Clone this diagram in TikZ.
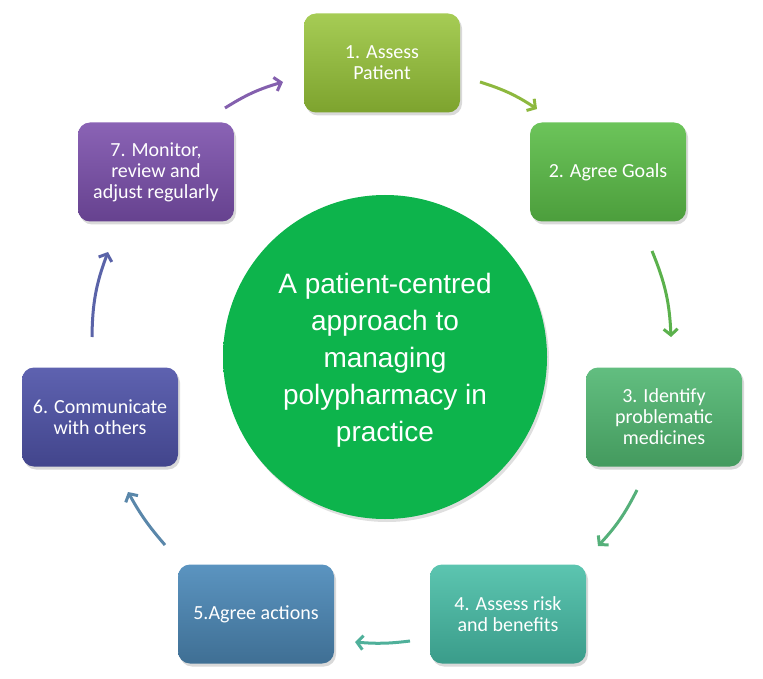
\documentclass[tikz,border=0pt]{standalone}
\usepackage{fontspec}
\setmainfont{Carlito}
\newfontfamily\arialf{Liberation Sans}
\usetikzlibrary{arrows.meta,shadows}
\definecolor{ta}{HTML}{A6CC55}\definecolor{ba}{HTML}{7DA32E}
\definecolor{tb}{HTML}{6CC45A}\definecolor{bb}{HTML}{4C9E3C}
\definecolor{tc}{HTML}{62BE80}\definecolor{bc}{HTML}{449A5E}
\definecolor{td}{HTML}{5CC5B0}\definecolor{bd}{HTML}{3A9C8A}
\definecolor{te}{HTML}{5B94C0}\definecolor{be}{HTML}{3F6F94}
\definecolor{tf}{HTML}{5E62B0}\definecolor{bf}{HTML}{42458C}
\definecolor{tg}{HTML}{8A63B5}\definecolor{bg}{HTML}{66428F}
\definecolor{aa}{HTML}{8DB83E}\definecolor{ab}{HTML}{5BB14C}
\definecolor{ac}{HTML}{55B07A}\definecolor{ad}{HTML}{4FB09A}
\definecolor{ae}{HTML}{5A87AA}\definecolor{af}{HTML}{5A63A8}
\definecolor{ag}{HTML}{8460AE}
\definecolor{circin}{HTML}{0DB44C}\definecolor{circout}{HTML}{07863A}
\pgfdeclareradialshading{circshade}{\pgfpoint{0bp}{0bp}}{color(0bp)=(circin); color(43bp)=(circin); color(47.5bp)=(circin!80!circout); color(50bp)=(circout)}
\tikzset{
  stepbox/.style={rounded corners=12pt, minimum width=156pt, minimum height=99pt,
    text=white, align=center, font=\fontsize{20}{21}\selectfont,
    drop shadow={opacity=0.3, shadow xshift=2pt, shadow yshift=-3pt}},
  cyc/.style={line width=3pt, -{Straight Barb[length=6pt,width=14pt,line width=3pt]}}
}
\begin{document}
\begin{tikzpicture}[x=1pt,y=-1pt]
\useasboundingbox (0,0) rectangle (763,679);
\node[circle, minimum size=324pt, shading=circshade,
  drop shadow={opacity=0.25, shadow xshift=2pt, shadow yshift=-3pt}] (c) at (385,357) {};
\node[align=center, text=white, font=\arialf\fontsize{28}{37}\selectfont] (ct) at (385,360)
  {A patient-centred\\approach to\\managing\\polypharmacy in\\practice};
\node[stepbox, top color=ta, bottom color=ba] (b1) at (382,63) {1. Assess\\Patient};
\node[stepbox, top color=tb, bottom color=bb] (b2) at (608,172) {2. Agree Goals};
\node[stepbox, top color=tc, bottom color=bc] (b3) at (664,417) {3. Identify\\problematic\\medicines};
\node[stepbox, top color=td, bottom color=bd] (b4) at (508,614) {4. Assess risk\\and benefits};
\node[stepbox, top color=te, bottom color=be] (b5) at (256,614) {5.Agree actions};
\node[stepbox, top color=tf, bottom color=bf] (b6) at (100,417) {6. Communicate\\with others};
\node[stepbox, top color=tg, bottom color=bg] (b7) at (156,172) {7. Monitor,\\review and\\adjust regularly};
\coordinate (s1) at (480,82);  \coordinate (e1) at (537,109);
\coordinate (s2) at (652,251); \coordinate (e2) at (671,337);
\coordinate (s3) at (637,490); \coordinate (e3) at (598,546);
\coordinate (s4) at (410,641); \coordinate (e4) at (355,642);
\coordinate (s5) at (165,545); \coordinate (e5) at (128,492);
\coordinate (s6) at (92,337);  \coordinate (e6) at (108,252);
\coordinate (s7) at (225,108); \coordinate (e7) at (283,82);
\draw[cyc, aa] (s1) to[bend left=8] (e1);
\draw[cyc, ab] (s2) to[bend left=10] (e2);
\draw[cyc, ac] (s3) to[bend left=8] (e3);
\draw[cyc, ad] (s4) to[bend left=6] (e4);
\draw[cyc, ae] (s5) to[bend left=6] (e5);
\draw[cyc, af] (s6) to[bend left=10] (e6);
\draw[cyc, ag] (s7) to[bend left=8] (e7);
\end{tikzpicture}
\end{document}
